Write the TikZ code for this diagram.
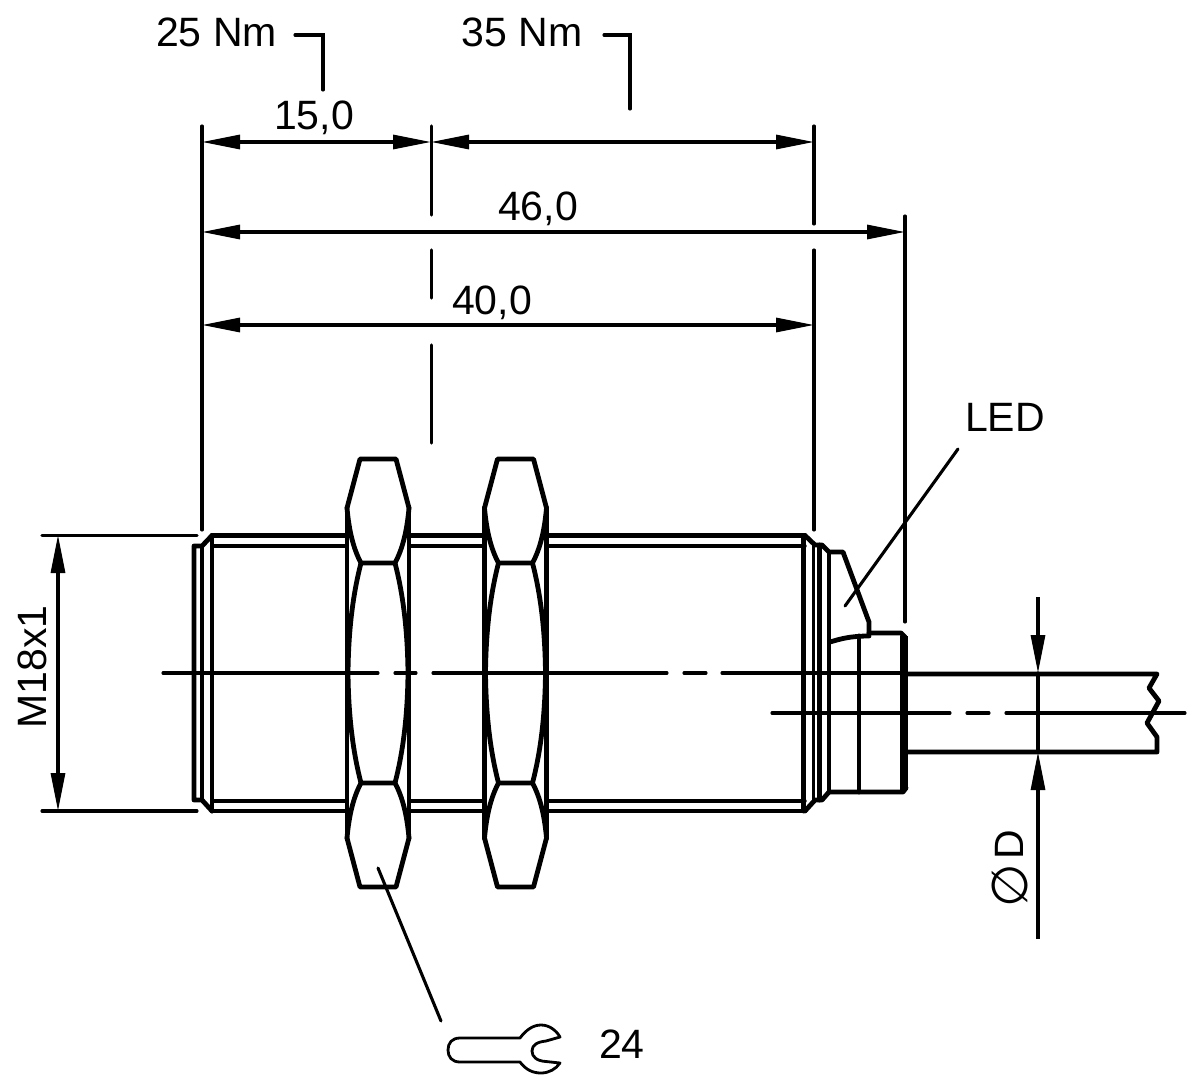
\documentclass[tikz,border=0pt]{standalone}
\usepackage{fontspec}
\setmainfont{Liberation Sans}
\newfontfamily\symfont{DejaVu Sans}
\usetikzlibrary{arrows.meta}
\tikzset{
  heavy/.style={line width=4.8pt,line join=round,line cap=round},
  medium/.style={line width=3.4pt,line join=round,line cap=round},
  fine/.style={line width=3.1pt,line cap=round},
  dimline/.style={line width=3.1pt,{Triangle[length=38pt,width=14pt]}-{Triangle[length=38pt,width=14pt]}},
  dimend/.style={line width=3.1pt,-{Triangle[length=38pt,width=14pt]}},
  label/.style={inner sep=0pt,anchor=base,font=\fontsize{41}{48}\selectfont},
}
\newcommand{\nutbody}{%
  \draw[heavy] (347,508) -- (360,459) -- (396,459) -- (409,508);
  \draw[heavy] (347,838) -- (360,887) -- (396,887) -- (409,838);
  \draw[heavy] (347,508) -- (347,838);
  \draw[heavy] (409,508) -- (409,838);
  \draw[heavy] (347,508) .. controls (349,530) and (353,548) .. (361,563) -- (395,563) .. controls (403,548) and (407,530) .. (409,508);
  \draw[heavy] (347,838) .. controls (349,816) and (353,798) .. (361,783) -- (395,783) .. controls (403,798) and (407,816) .. (409,838);
  \draw[heavy] (361,563) .. controls (354,590) and (348.5,625) .. (348,673) .. controls (348.5,721) and (354,756) .. (361,783);
  \draw[heavy] (395,563) .. controls (402,590) and (407.5,625) .. (408,673) .. controls (407.5,721) and (402,756) .. (395,783);
}
\begin{document}
\begin{tikzpicture}[x=1pt,y=-1pt]
\useasboundingbox (0,0) rectangle (1200,1090);

% named points of the dimensioning
\coordinate (L1) at (202,142); \coordinate (M1) at (431,142); \coordinate (R1) at (814,142);
\coordinate (L2) at (202,232); \coordinate (R2) at (905,232);
\coordinate (L3) at (202,325); \coordinate (R3) at (814,325);
\coordinate (T) at (58,535); \coordinate (B) at (58,811);
\coordinate (Dt0) at (1038,597); \coordinate (Dt) at (1038,673);
\coordinate (Db) at (1038,752); \coordinate (Db0) at (1038,939);

% extension lines
\draw[fine] (202,126) -- (202,530);
\draw[fine] (431.5,126) -- (431.5,215) (431.5,250) -- (431.5,298) (431.5,345) -- (431.5,443);
\draw[fine] (814,126) -- (814,224) (814,250) -- (814,530);
\draw[fine] (905,216) -- (905,622);
\draw[fine] (42,535.5) -- (197,535.5) (42,811) -- (197,811);

% dimension lines
\draw[dimline] (L1) -- (M1);
\draw[dimline] (M1) -- (R1);
\draw[dimline] (L2) -- (R2);
\draw[dimline] (L3) -- (R3);
\draw[dimline] (T) -- (B);
\draw[dimend] (Dt0) -- (Dt);
\draw[dimend] (Db0) -- (Db);
\draw[fine] (Dt) -- (Db);

% leaders
\draw[fine] (295,35) -- (323,35) -- (323,90);
\draw[fine] (604,35) -- (630,35) -- (630,109);
\draw[fine] (958,449) -- (845,606);
\draw[fine] (378,868) -- (441,1021);

% centre lines
\draw[fine] (163,673) -- (378,673) (395,673) -- (416,673) (433,673) -- (667,673) (684,673) -- (706,673) (722,673) -- (905,673);
\draw[fine] (772,713) -- (950,713) (967,713) -- (989,713) (1006,713) -- (1185,713);

% threaded body
\draw[heavy] (212,535.5) -- (347,535.5) (409,535.5) -- (485,535.5) (547,535.5) -- (805,535.5);
\draw[heavy] (212,811) -- (347,811) (409,811) -- (485,811) (547,811) -- (805,811);
\draw[medium] (212,546) -- (347,546) (409,546) -- (485,546) (547,546) -- (805,546);
\draw[medium] (212,801) -- (347,801) (409,801) -- (485,801) (547,801) -- (805,801);
% left end
\draw[heavy] (212,535.5) -- (202,546) -- (194,546) -- (194,800) -- (202,800) -- (212,811);
\draw[medium] (202,546) -- (202,800);
\draw[heavy] (212,535.5) -- (212,811);
% right end
\draw[heavy] (805,535.5) -- (815,545) -- (822,545) -- (829,552) -- (843,552) -- (869,622) -- (869,634);
\draw[heavy] (805,811) -- (815,800) -- (822,800) -- (829,792);
\draw[heavy] (803.5,535.5) -- (803.5,811);
\draw[medium] (813.5,545) -- (813.5,800);
\draw[heavy] (819.5,545) -- (819.5,800);
\draw[heavy] (829,552) -- (829,792);
% LED housing and connector
\draw[heavy] (830,642) .. controls (840,639) and (850,636) .. (869,636);
\draw[heavy] (869,633) -- (901,633) -- (905,637);
\draw[heavy] (829,792) -- (903,792) -- (906,788);
\draw[heavy] (859,636) -- (859,792);
\draw[line width=8pt] (904,636) -- (904,790);
% cable
\draw[heavy] (907,674) -- (1157,674) -- (1149,688) -- (1159,701) -- (1147,723) -- (1157,737) -- (1157,752) -- (907,752);

% lock nuts
\nutbody
\begin{scope}[xshift=137.5pt]\nutbody\end{scope}

% wrench symbol
\draw[line width=2.8pt,line join=round] (520,1038) -- (460,1038) .. controls (452,1038) and (448,1043) .. (448,1050) .. controls (448,1057) and (452,1062) .. (460,1062) -- (520,1062) .. controls (526,1070) and (533,1073) .. (541,1073) .. controls (549,1073) and (556,1069) .. (560,1063) -- (546,1061.5) .. controls (537,1061) and (532,1057) .. (532,1051) .. controls (532,1045) and (537,1042) .. (546,1041) -- (560,1037) .. controls (556,1030) and (549,1025) .. (541,1025) .. controls (533,1025) and (526,1030) .. (520,1038) -- cycle;

% labels
\node[label] (n25) at (216.5,46) {25 Nm};
\node[label] (n35) at (522,46) {35 Nm};
\node[label] (d15) at (314,129) {15,0};
\node[label] (d46) at (538,220.5) {46,0};
\node[label] (d40) at (492,314.5) {40,0};
\node[label] (led) at (1005,431) {LED};
\node[label] (w24) at (622,1058) {24};
\node[label,rotate=90] (m18) at (46,667) {M18x1};
\node[label,rotate=90] (dD) at (1023,845) {D};
\node[inner sep=0pt,rotate=90,font=\symfont\fontsize{50}{52}\selectfont] (phi) at (1010,886) {∅};
\end{tikzpicture}
\end{document}
